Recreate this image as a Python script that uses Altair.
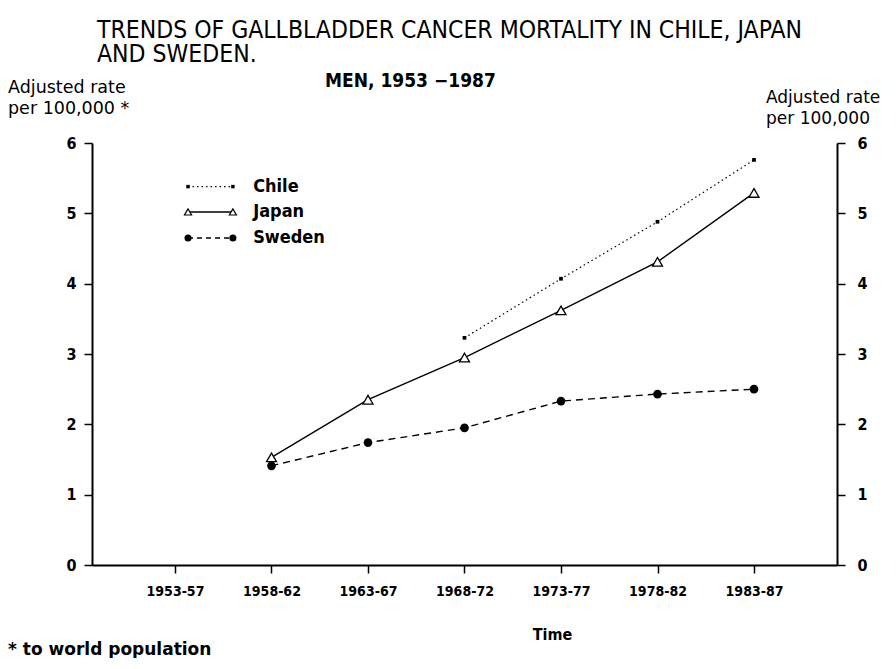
import altair as alt
import pandas as pd

# ---------------- data ----------------
periods = ["1953-57", "1958-62", "1963-67", "1968-72", "1973-77", "1978-82", "1983-87"]
chile = [None, None, None, 3.23, 4.07, 4.88, 5.76]
japan = [None, 1.53, 2.35, 2.95, 3.62, 4.31, 5.29]
sweden = [None, 1.41, 1.74, 1.95, 2.33, 2.43, 2.50]
countries = ["Chile", "Japan", "Sweden"]
y_ticks = [0, 1, 2, 3, 4, 5, 6]

title_lines = ["TRENDS OF GALLBLADDER CANCER MORTALITY IN CHILE, JAPAN", "AND SWEDEN."]
subtitle = "MEN,  1953 \u22121987"
left_title = ["Adjusted rate", "per 100,000 *"]
right_title = ["Adjusted rate", "per 100,000"]
x_title = "Time"
footnote = "* to world population"

rows = []
for name, vals in zip(countries, [chile, japan, sweden]):
    for i, (p, v) in enumerate(zip(periods, vals)):
        if v is not None:
            rows.append({"country": name, "idx": i, "period": p, "rate": v})
df = pd.DataFrame(rows)

FONT = "DejaVu Sans Condensed, Liberation Sans Narrow, Roboto Condensed, DejaVu Sans"
FONT_W = "DejaVu Sans, Open Sans, sans-serif"
W, H = 745, 422

label_expr = "[" + ",".join("'%s'" % p for p in periods) + "][datum.value]"

x_enc = alt.X(
    "idx:Q",
    scale=alt.Scale(domain=[-0.86, 6.86], nice=False, zero=False),
    axis=alt.Axis(
        values=list(range(len(periods))), labelExpr=label_expr, title=x_title,
        grid=False, domainColor="black", domainWidth=2, tickColor="black",
        tickWidth=1.5, tickSize=8, labelFont=FONT, labelFontSize=14,
        labelFontWeight="bold", labelColor="black", labelPadding=11,
        titleFont=FONT, titleFontSize=16, titleFontWeight="bold", titleColor="black",
        titleX=460, titleY=74, titleBaseline="alphabetic",
    ),
)
y_scale = alt.Scale(domain=[0, 6], nice=False, zero=True)
y_enc = alt.Y(
    "rate:Q", scale=y_scale,
    axis=alt.Axis(
        values=y_ticks, format="d", title=None, grid=False, orient="left",
        domainColor="black", domainWidth=2, tickColor="black", tickWidth=1.5,
        tickSize=8, labelFont=FONT, labelFontSize=16, labelFontWeight="bold",
        labelColor="black", labelPadding=8,
    ),
)

base = alt.Chart(df).encode(x=x_enc, y=y_enc)

def sel(name):
    return base.transform_filter(alt.datum.country == name)

chile_line = sel("Chile").mark_line(color="black", strokeWidth=1.2, strokeDash=[1.5, 3])
japan_line = sel("Japan").mark_line(color="black", strokeWidth=1.4)
sweden_line = sel("Sweden").mark_line(color="black", strokeWidth=1.4, strokeDash=[7, 5])
chile_pts = sel("Chile").mark_square(color="black", size=14, opacity=1)
japan_pts = sel("Japan").mark_point(shape="triangle-up", size=100, filled=True,
                                    fill="white", stroke="black", strokeWidth=1.3, opacity=1)
sweden_pts = sel("Sweden").mark_circle(color="black", size=75, opacity=1)

# ---------------- legend (drawn in the chart's own scales) ----------------
leg_rows = []
for name, ly in zip(countries, [5.38, 5.02, 4.65]):
    for lx in (0.135, 0.60):
        leg_rows.append({"country": name, "idx": lx, "rate": ly})
leg = pd.DataFrame(leg_rows)
leg_text = pd.DataFrame({"country": countries, "idx": [0.81] * 3, "rate": [5.38, 5.02, 4.65]})

lbase = alt.Chart(leg).encode(x=x_enc, y=y_enc)
def lsel(name):
    return lbase.transform_filter(alt.datum.country == name)

leg_layers = [
    lsel("Chile").mark_line(color="black", strokeWidth=1.2, strokeDash=[1.5, 3]),
    lsel("Japan").mark_line(color="black", strokeWidth=1.4),
    lsel("Sweden").mark_line(color="black", strokeWidth=1.4, strokeDash=[5, 4]),
    lsel("Chile").mark_square(color="black", size=12, opacity=1),
    lsel("Japan").mark_point(shape="triangle-up", size=50, filled=True, fill="white",
                             stroke="black", strokeWidth=1.2, opacity=1),
    lsel("Sweden").mark_circle(color="black", size=50, opacity=1),
    alt.Chart(leg_text).mark_text(align="left", baseline="middle", font=FONT,
                                  fontSize=18, fontWeight="bold", color="black")
    .encode(x=x_enc, y=y_enc, text="country:N"),
]

one = pd.DataFrame({"k": [0]})
def label(text, x, y, size, weight="normal", font=FONT, lh=None):
    return alt.Chart(one).mark_text(text=text, align="left", baseline="alphabetic",
                                    font=font, fontSize=size, fontWeight=weight,
                                    color="black", lineHeight=lh or size + 3).encode(
        x=alt.value(x), y=alt.value(y))

texts = [
    label(title_lines, 5, -105, 24.5, lh=24),
    label(subtitle, 233, -56, 19, "bold"),
    label(left_title, -84, -50, 17.5, font=FONT_W, lh=21),
    label(right_title, 674, -40, 17, font=FONT_W, lh=21),
    label(footnote, -84, 512, 17, "bold", font=FONT_W),
]

main = alt.layer(chile_line, japan_line, sweden_line, chile_pts, japan_pts, sweden_pts,
                 *leg_layers, *texts)

right_axis = alt.Chart(pd.DataFrame({"rate": y_ticks})).mark_point(opacity=0).encode(
    y=alt.Y("rate:Q", scale=y_scale,
            axis=alt.Axis(values=y_ticks, format="d", title=None, grid=False,
                          orient="right", domainColor="black", domainWidth=2,
                          tickColor="black", tickWidth=1.5, tickSize=8,
                          labelFont=FONT, labelFontSize=16, labelFontWeight="bold",
                          labelColor="black", labelPadding=12))
)

chart = alt.layer(main, right_axis).resolve_scale(y="independent").properties(
    width=W, height=H,
    autosize=alt.AutoSizeParams(type="none"),
    padding={"left": 84, "top": 135, "right": 51, "bottom": 93},
    background="white",
).configure_view(strokeWidth=0)

chart.save("out.html", embed_options={"renderer": "svg", "actions": False})
